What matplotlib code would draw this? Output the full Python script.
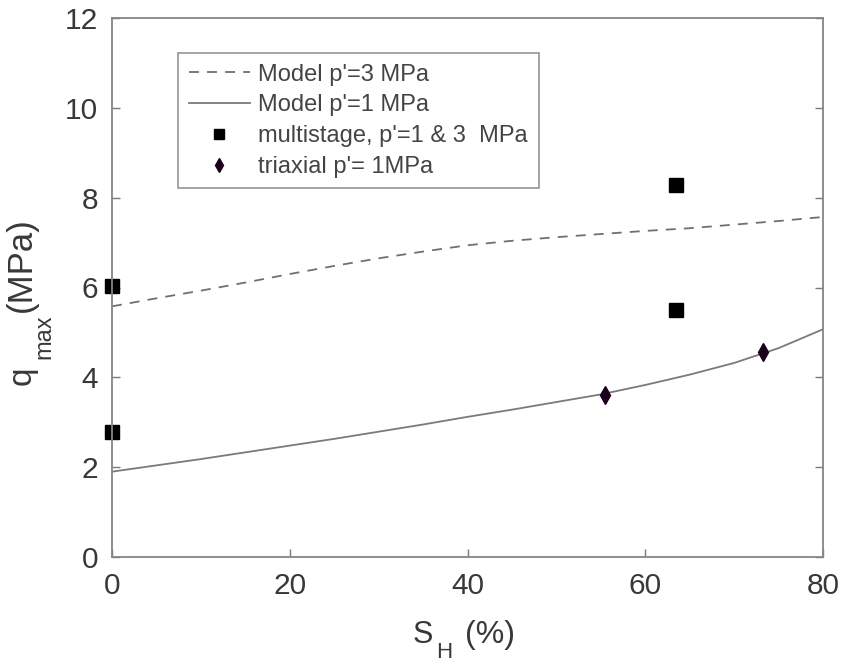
import matplotlib
matplotlib.use("Agg")
import matplotlib.pyplot as plt
from matplotlib.transforms import IdentityTransform

plt.rcParams['font.family'] = ['Liberation Sans', 'DejaVu Sans']

# Model curves
model3_x = [0, 5, 10, 15, 20, 25, 30, 35, 40, 45, 50, 55, 60, 65, 70, 75, 80]
model3_y = [5.58, 5.76, 5.93, 6.11, 6.30, 6.48, 6.65, 6.80, 6.94, 7.04, 7.12, 7.19, 7.26, 7.32, 7.40, 7.48, 7.57]
model1_x = [0, 5, 10, 15, 20, 25, 30, 35, 40, 45, 50, 55, 60, 65, 70, 75, 80]
model1_y = [1.90, 2.04, 2.18, 2.33, 2.48, 2.63, 2.79, 2.95, 3.12, 3.28, 3.45, 3.62, 3.83, 4.06, 4.32, 4.65, 5.07]

# Experimental data
multi_x = [0, 0, 63.5, 63.5]
multi_y = [6.03, 2.78, 8.28, 5.50]
tri_x = [55.5, 73.3]
tri_y = [3.60, 4.56]

W, H = 842, 664
fig = plt.figure(figsize=(W / 100, H / 100), dpi=100)
ax = fig.add_axes([112 / W, 1 - 557 / H, 711 / W, 539 / H])

gray = '#7a7a7a'
ax.plot(model3_x, model3_y, linestyle=(0, (5.5, 4.5)), color='#707070', lw=1.3,
        label="Model p'=3 MPa")
ax.plot(model1_x, model1_y, '-', color=gray, lw=1.3, label="Model p'=1 MPa")
ax.plot(multi_x, multi_y, 's', color='black', ms=9.5, ls='none', clip_on=False,
        label="multistage, p'=1 & 3  MPa")
ax.plot(tri_x, tri_y, 'd', color='#1a001a', ms=9, ls='none', label="triaxial p'= 1MPa")

ax.set_xlim(0, 80)
ax.set_ylim(0, 12)
ax.set_xticks([0, 20, 40, 60, 80])
ax.set_yticks([0, 2, 4, 6, 8, 10, 12])
ax.tick_params(direction='in', length=6, width=1, colors=gray, labelcolor='#383838',
               labelsize=21.5)
ax.tick_params(axis='y', pad=10)
ax.tick_params(axis='x', pad=11)
ax.tick_params(top=False, right=True)
for s in ax.spines.values():
    s.set_color('#858585')
    s.set_linewidth(1.3)

# Axis labels with MATLAB-style dropped subscripts (pixel coordinates)
tc = '#383838'
ident = IdentityTransform()
fig.text(413, 21, "S", fontsize=22, color=tc, transform=ident, ha='left', va='baseline')
fig.text(436, 6, "H", fontsize=16, color=tc, transform=ident, ha='left', va='baseline')
fig.text(465, 21, "(%)", fontsize=23, color=tc, transform=ident, ha='left', va='baseline')

fig.text(31, 279, "q", fontsize=24, color=tc, transform=ident, ha='left', va='baseline',
         rotation=90, rotation_mode='anchor')
fig.text(50, 305, "max", fontsize=17, color=tc, transform=ident, ha='left', va='baseline',
         rotation=90, rotation_mode='anchor')
fig.text(31, 352, "(MPa)", fontsize=25, color=tc, transform=ident, ha='left', va='baseline',
         rotation=90, rotation_mode='anchor')

leg = ax.legend(loc='upper left', bbox_to_anchor=((178 - 112) / 711, 1 - (53 - 18) / 539),
                borderaxespad=0, fontsize=17, frameon=True, fancybox=False,
                edgecolor='#858585', handlelength=2.6, borderpad=0.45,
                labelspacing=0.37, handletextpad=0.35, markerscale=0.8)
leg.get_frame().set_linewidth(1.3)
for t in leg.get_texts():
    t.set_color('#444444')

fig.savefig('out.png', dpi=100)
